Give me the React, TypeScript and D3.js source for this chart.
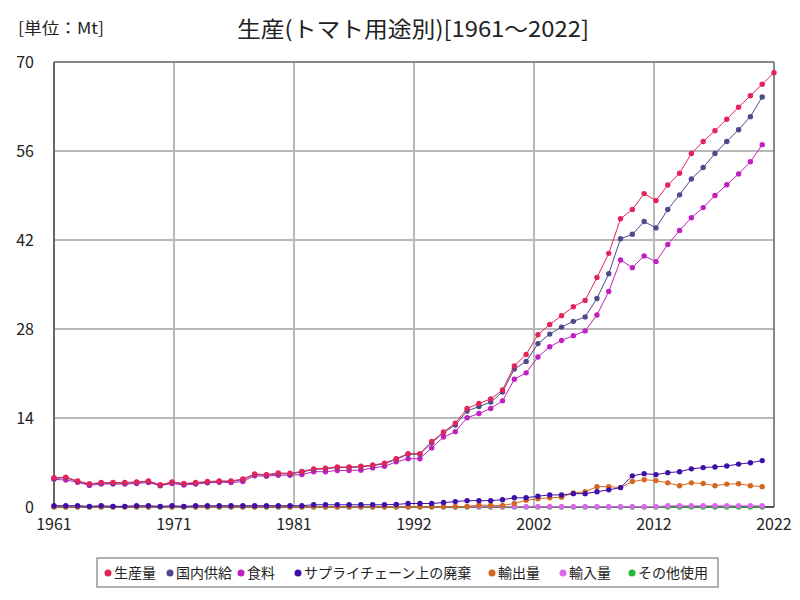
import React from "react";
import * as d3 from "d3";

const years: number[] = d3.range(1961, 2023);

const production = [4.6, 4.7, 4.1, 3.65, 3.85, 3.85, 3.85, 3.95, 4.1, 3.5, 3.95, 3.7, 3.85, 4.0, 4.1, 4.1, 4.4, 5.2, 5.1, 5.35, 5.3, 5.6, 6.0, 6.1, 6.3, 6.3, 6.4, 6.6, 6.9, 7.6, 8.4, 8.4, 10.3, 11.8, 13.2, 15.5, 16.3, 17.0, 18.4, 22.2, 24.0, 27.1, 28.7, 30.1, 31.5, 32.5, 36.1, 39.9, 45.35, 46.8, 49.3, 48.2, 50.65, 52.5, 55.6, 57.5, 59.2, 61.0, 62.9, 64.7, 66.5, 68.3];
const domesticSupply = [4.5, 4.6, 4.0, 3.55, 3.75, 3.75, 3.75, 3.85, 4.0, 3.4, 3.85, 3.6, 3.75, 3.9, 4.0, 4.0, 4.3, 5.1, 5.0, 5.25, 5.2, 5.5, 5.9, 6.0, 6.2, 6.2, 6.3, 6.5, 6.8, 7.5, 8.3, 8.3, 10.1, 11.7, 12.9, 15.1, 15.8, 16.5, 18.1, 21.7, 22.9, 25.7, 27.2, 28.3, 29.2, 29.9, 32.8, 36.7, 42.2, 42.9, 44.9, 43.9, 46.8, 49.1, 51.6, 53.4, 55.6, 57.5, 59.35, 61.4, 64.5];
const food = [4.35, 4.25, 3.9, 3.4, 3.6, 3.6, 3.6, 3.7, 3.85, 3.35, 3.7, 3.45, 3.6, 3.8, 3.9, 3.85, 4.0, 4.9, 4.85, 5.0, 5.0, 5.1, 5.55, 5.55, 5.75, 5.75, 5.8, 6.15, 6.4, 7.1, 7.6, 7.6, 9.3, 11.0, 11.85, 14.05, 14.7, 15.5, 16.7, 20.1, 21.1, 23.6, 25.2, 26.2, 26.95, 27.7, 30.2, 33.9, 38.85, 37.65, 39.5, 38.6, 41.3, 43.5, 45.5, 47.1, 49.0, 50.7, 52.4, 54.3, 57.0];
const supplyChainWaste = [0.2, 0.2, 0.2, 0.1, 0.2, 0.1, 0.1, 0.2, 0.2, 0.1, 0.2, 0.1, 0.2, 0.2, 0.2, 0.2, 0.2, 0.2, 0.2, 0.2, 0.2, 0.2, 0.35, 0.35, 0.35, 0.35, 0.35, 0.35, 0.35, 0.4, 0.55, 0.55, 0.55, 0.7, 0.85, 1.0, 1.0, 1.0, 1.15, 1.45, 1.45, 1.7, 1.9, 1.9, 2.1, 2.1, 2.4, 2.7, 3.05, 4.9, 5.25, 5.1, 5.4, 5.55, 6.0, 6.2, 6.3, 6.45, 6.75, 6.95, 7.3];
const exports = [0.05, 0.05, 0.05, 0.05, 0.05, 0.05, 0.05, 0.05, 0.05, 0.05, 0.05, 0.05, 0.05, 0.05, 0.05, 0.05, 0.05, 0.05, 0.05, 0.05, 0.05, 0.05, 0.05, 0.05, 0.05, 0.05, 0.05, 0.05, 0.05, 0.05, 0.05, 0.05, 0.05, 0.05, 0.05, 0.1, 0.3, 0.25, 0.25, 0.55, 1.05, 1.3, 1.45, 1.55, 2.2, 2.4, 3.2, 3.2, 3.05, 4.0, 4.3, 4.15, 3.8, 3.35, 3.8, 3.7, 3.35, 3.6, 3.65, 3.35, 3.2];
const imports = [0.05, 0.05, 0.05, 0.05, 0.05, 0.05, 0.05, 0.05, 0.05, 0.05, 0.05, 0.05, 0.05, 0.05, 0.05, 0.05, 0.05, 0.05, 0.05, 0.05, 0.05, 0.05, 0.05, 0.05, 0.05, 0.05, 0.05, 0.05, 0.05, 0.05, 0.05, 0.05, 0.05, 0.05, 0.05, 0.05, 0.05, 0.05, 0.05, 0.05, 0.05, 0.05, 0.05, 0.05, 0.05, 0.05, 0.05, 0.05, 0.05, 0.05, 0.05, 0.05, 0.2, 0.2, 0.2, 0.2, 0.2, 0.2, 0.2, 0.2, 0.2];
const otherUse = [0, 0, 0, 0, 0, 0, 0, 0, 0, 0, 0, 0, 0, 0, 0, 0, 0, 0, 0, 0, 0, 0, 0, 0, 0, 0, 0, 0, 0, 0, 0, 0, 0, 0, 0, 0, 0, 0, 0, 0, 0, 0, 0, 0, 0, 0, 0, 0, 0, 0, 0, 0, 0, 0, 0, 0, 0, 0, 0, 0, 0];

const seriesNames = ["生産量", "国内供給", "食料", "サプライチェーン上の廃棄", "輸出量", "輸入量", "その他使用"];
const seriesColors = ["#e3245a", "#4e4a8c", "#c21fc0", "#3f0fa8", "#d2691e", "#dd66ee", "#22bb33"];
const seriesValues = [production, domesticSupply, food, supplyChainWaste, exports, imports, otherUse];

const yTicks = [0, 14, 28, 42, 56, 70];
const xTickLabels = ["1961", "1971", "1981", "1992", "2002", "2012", "2022"];

const title = "生産(トマト用途別)[1961～2022]";
const unitLabel = "[単位：Mt]";

const FONT = "'Noto Sans CJK JP', 'Noto Sans', sans-serif";

export default function App() {
  const W = 800, H = 600;
  const left = 54, right = 774, top = 62, bottom = 507;
  const x = d3.scaleLinear().domain([1961, 2022]).range([left, right]);
  const y = d3.scaleLinear().domain([0, 70]).range([bottom, top]);
  const xGrid = d3.range(7).map((i) => 1961 + (i * 61) / 6);

  const line = d3
    .line<[number, number]>()
    .x((d) => x(d[0]))
    .y((d) => y(d[1]));

  const legendX = [108, 170, 241, 298, 492, 563, 632];

  const order = d3.range(seriesNames.length).reverse();

  return (
    <svg width={W} height={H} style={{ display: "block", position: "absolute", left: 0, top: 0, background: "#fff" }} fontFamily={FONT}>
      <rect x={0} y={0} width={W} height={H} fill="#fff" />
      <text x={18} y={34} fontSize={16} fill="#222" textLength={86} lengthAdjust="spacingAndGlyphs">{unitLabel}</text>
      <text x={413} y={37} fontSize={22} textAnchor="middle" fill="#222" textLength={352} lengthAdjust="spacingAndGlyphs">{title}</text>

      {/* grid */}
      {yTicks.slice(1, -1).map((t) => (
        <line key={"gy" + t} x1={left} x2={right} y1={y(t)} y2={y(t)} stroke="#b8b8b8" strokeWidth={2} />
      ))}
      {xGrid.slice(1, -1).map((t, i) => (
        <line key={"gx" + i} x1={x(t)} x2={x(t)} y1={top} y2={bottom} stroke="#b8b8b8" strokeWidth={2} />
      ))}
      {/* frame */}
      <line x1={left} x2={right} y1={top} y2={top} stroke="#888" strokeWidth={2} />
      <line x1={right} x2={right} y1={top} y2={bottom} stroke="#888" strokeWidth={2} />
      <line x1={left} x2={left} y1={top} y2={bottom} stroke="#666" strokeWidth={2} />
      <line x1={left} x2={right} y1={bottom} y2={bottom} stroke="#555" strokeWidth={2} />

      {/* y tick labels */}
      {yTicks.map((t) => (
        <text key={"yl" + t} x={34} y={y(t) + 6} fontSize={16} textAnchor="end" fill="#222">{t}</text>
      ))}
      {/* x tick labels */}
      {xGrid.map((t, i) => (
        <text key={"xl" + i} x={x(t)} y={530} fontSize={16} textAnchor="middle" fill="#222">{xTickLabels[i]}</text>
      ))}

      {/* series */}
      {order.map((si) => {
        const pts: [number, number][] = seriesValues[si].map((v, i) => [years[i], v]);
        return (
          <g key={"s" + si}>
            <path d={line(pts) || ""} fill="none" stroke={seriesColors[si]} strokeWidth={1} />
            {pts.map((p, i) => (
              <circle key={i} cx={x(p[0])} cy={y(p[1])} r={2.7} fill={seriesColors[si]} />
            ))}
          </g>
        );
      })}

      {/* legend */}
      <rect x={97} y={558} width={621} height={29} fill="#fff" stroke="#999" strokeWidth={1.5} />
      {seriesNames.map((n, i) => (
        <g key={"lg" + i}>
          <circle cx={legendX[i]} cy={573} r={3.5} fill={seriesColors[i]} />
          <text x={legendX[i] + 6} y={578} fontSize={14} fill="#222">{n}</text>
        </g>
      ))}
    </svg>
  );
}
